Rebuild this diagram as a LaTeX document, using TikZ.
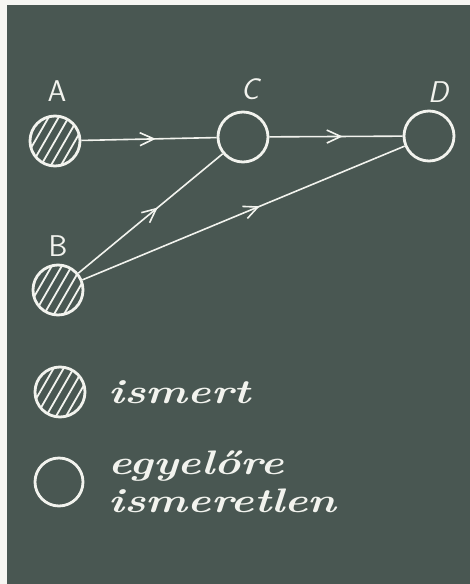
\documentclass[tikz,border=0pt]{standalone}
\usepackage{tikz}
\usetikzlibrary{
  arrows.meta,
  positioning,
  decorations.markings
}
\definecolor{boardgreen}{RGB}{73, 87, 82}
\definecolor{chalkwhite}{RGB}{242, 243, 238}
\definecolor{paperwhite}{RGB}{246, 246, 242}
\newcommand{\tagfont}{\sffamily\fontsize{30}{30}\selectfont}
\newcommand{\handfont}{\bfseries\itshape\fontsize{34}{38}\selectfont}
\newcommand{\wide}[1]{\scalebox{1.3}[1]{#1}}

\tikzset{
  event/.style={circle, draw=chalkwhite, line width=2.8pt, minimum size=50pt, inner sep=0pt},
  known/.style={event, path picture={
      \foreach \d in {-20,-10,...,20}
        \draw[chalkwhite, line width=1.8pt, shift={(path picture bounding box.center)}]
          (\d-15, 26) -- (\d+15, -26);
    }},
  tag/.style={text=chalkwhite, font=\tagfont, inner sep=0pt},
  handtext/.style={text=chalkwhite, font=\handfont, inner sep=0pt, align=left},
  flow/.style={chalkwhite, draw, line width=1.6pt, postaction={decorate},
    decoration={markings, mark=at position 0.55 with
      {\arrow{Straight Barb[length=14pt, width=13pt, line width=1.6pt, color=chalkwhite]}}}}
}

\begin{document}
\begin{tikzpicture}[x=1pt, y=-1pt]
  % ---------- board ----------
  \fill[paperwhite] (0,0) rectangle (470,584);
  \fill[boardgreen] (7,5) rectangle (470,584);
  \useasboundingbox (0,0) rectangle (470,584);
  % ---------- network ----------
  \node[known] (A) at (55,141) {};
  \node[known] (B) at (58,290) {};
  \node[event] (C) at (243,137) {};
  \node[event] (D) at (429,136) {};
  \node[tag] (tagA) at (57,91) {A};
  \node[tag] (tagB) at (58,246) {B};
  \node[tag, font=\tagfont\itshape] (tagC) at (250,89) {C};
  \node[tag, font=\tagfont\itshape] (tagD) at (438,92) {D};
  \draw[flow] (A) -- (C);
  \draw[flow] (C) -- (D);
  \draw[flow] (B) -- (C);
  \draw[flow] (B) -- (D);
  % ---------- legend ----------
  \node[known] (keyknown) at (60,392) {};
  \node[event, minimum size=48pt] (keyopen) at (59,482) {};
  \node[handtext, right=22pt of keyknown] (txtknown) {\wide{ismert}};
  \node[handtext, right=24pt of keyopen] (txtopen) {\wide{egyelőre}\\\wide{ismeretlen}};
\end{tikzpicture}
\end{document}
